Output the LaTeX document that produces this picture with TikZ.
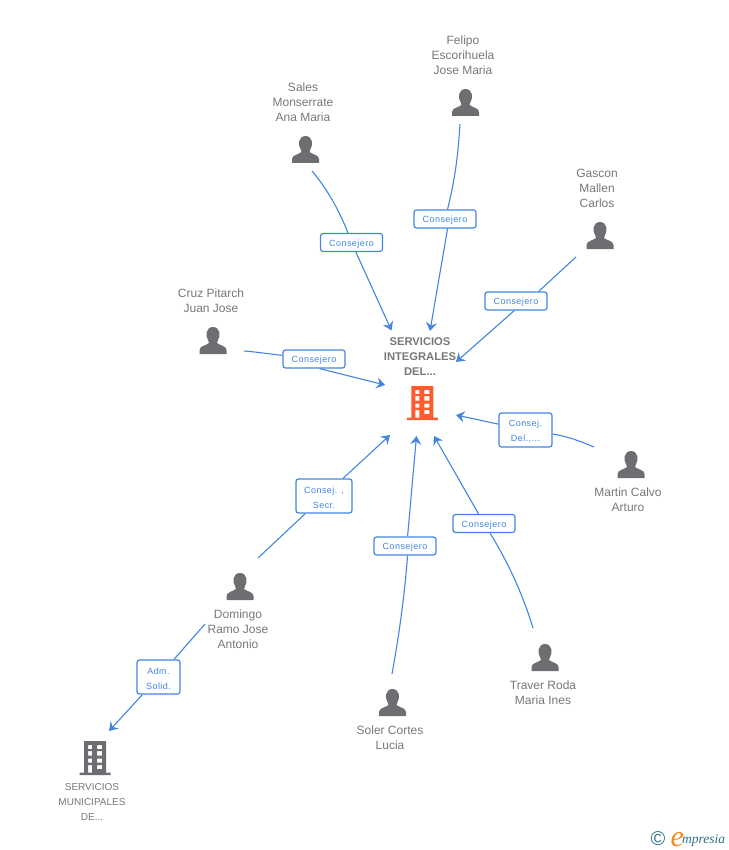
\documentclass[tikz,border=0pt]{standalone}
\usepackage{fontspec}
\setmainfont{Liberation Sans}
\newfontfamily\boxfont[LetterSpace=5]{Liberation Sans}
\newfontfamily\logofont{Liberation Serif}
\usetikzlibrary{arrows.meta}
\definecolor{LinkBlue}{HTML}{4285E0}
\definecolor{NameGrey}{HTML}{777777}
\definecolor{IconGrey}{HTML}{6E6E72}
\definecolor{HubOrange}{HTML}{FF5C2E}
\definecolor{LogoTeal}{HTML}{2F7088}
\definecolor{LogoOrange}{HTML}{F28C1E}
\newcommand{\relline}[1]{\raisebox{-1.5pt}[\height][\depth]{#1}}
\tikzset{
  nametext/.style={align=center,inner sep=0pt,text=NameGrey,font=\fontsize{12}{15}\selectfont},
  relbox/.style={draw=LinkBlue,fill=white,rounded corners=2.5pt,line width=1.2pt,align=center,
    inner sep=0pt,text=LinkBlue,font=\fontsize{9}{15}\boxfont},
  link/.style={draw=LinkBlue,line width=1.1pt},
  linkto/.style={link,-{Stealth[length=8.5pt,width=11pt,inset=3pt]}},
  pics/personicon/.style={code={
    \fill[IconGrey] (-13.5,0) -- (-13.5,-4) .. controls (-13.5,-8) and (-7,-8.5) .. (-4,-11)
      .. controls (-4,-12) and (-4.5,-13) .. (-5,-14) .. controls (-8,-18) and (-7,-27) .. (0,-27)
      .. controls (7,-27) and (8,-18) .. (5,-14) .. controls (4.5,-13) and (4,-12) .. (4,-11)
      .. controls (7,-8.5) and (13.5,-8) .. (13.5,-4) -- (13.5,0) -- cycle;
  }},
  pics/buildingicon/.style={code={
    \fill[#1,even odd rule] (-15.5,0) -- (-15.5,-2.5) -- (-11,-2.5) -- (-11,-34) -- (11,-34) -- (11,-2.5)
      -- (15.5,-2.5) -- (15.5,0) -- cycle
      (-7,-30) rectangle (-3,-26) (2,-30) rectangle (7,-26)
      (-7,-24) rectangle (-3,-19.5) (2,-24) rectangle (7,-19.5)
      (-7,-16.5) rectangle (-3,-12.5) (2,-16.5) rectangle (7,-12.5)
      (-7,-10) rectangle (-3,-2.5) (2,-10) rectangle (7,-6);
  }},
}
\begin{document}
\begin{tikzpicture}[x=1pt,y=-1pt]
  \useasboundingbox (0,0) rectangle (728,850);
  % people
  \pic (felipoIcon) at (465.5,116) {personicon};
  \pic (salesIcon) at (305.5,163) {personicon};
  \pic (gasconIcon) at (600,249) {personicon};
  \pic (cruzIcon) at (213,354) {personicon};
  \pic (martinIcon) at (631,478) {personicon};
  \pic (domingoIcon) at (240,600) {personicon};
  \pic (solerIcon) at (392.5,716) {personicon};
  \pic (traverIcon) at (545,671) {personicon};
  \node[nametext] (felipo) at (463,55) {Felipo\\Escorihuela\\Jose Maria};
  \node[nametext] (sales) at (303,102) {Sales\\Monserrate\\Ana Maria};
  \node[nametext] (gascon) at (597,188) {Gascon\\Mallen\\Carlos};
  \node[nametext] (cruz) at (211,300.5) {Cruz Pitarch\\Juan Jose};
  \node[nametext] (martin) at (628,499.5) {Martin Calvo\\Arturo};
  \node[nametext] (domingo) at (238,629) {Domingo\\Ramo Jose\\Antonio};
  \node[nametext] (soler) at (390,737.5) {Soler Cortes\\Lucia};
  \node[nametext] (traver) at (543,692.5) {Traver Roda\\Maria Ines};
  % companies
  \node[nametext,font=\fontsize{11.2}{15}\selectfont\bfseries] (hub) at (420,357) {SERVICIOS\\INTEGRALES\\DEL...};
  \pic (hubIcon) at (422.3,420) {buildingicon=HubOrange};
  \pic (munIcon) at (95,775) {buildingicon=IconGrey};
  \node[nametext,font=\fontsize{10}{15}\selectfont] (mun) at (92,802) {SERVICIOS\\MUNICIPALES\\DE...};
  % relation boxes
  \node[relbox,minimum width=62pt,minimum height=18pt] (salesBox) at (351.5,242.5) {\relline{Consejero}};
  \node[relbox,minimum width=62pt,minimum height=18pt] (felipoBox) at (445,219) {\relline{Consejero}};
  \node[relbox,minimum width=62pt,minimum height=18pt] (gasconBox) at (516,301) {\relline{Consejero}};
  \node[relbox,minimum width=62pt,minimum height=18pt] (cruzBox) at (314,359) {\relline{Consejero}};
  \node[relbox,minimum width=53pt,minimum height=34pt] (martinBox) at (525.5,430) {\relline{Consej.}\\\relline{Del.,...}};
  \node[relbox,minimum width=56pt,minimum height=34pt] (domingoBox) at (324,496) {\relline{Consej. ,}\\\relline{Secr.}};
  \node[relbox,minimum width=62pt,minimum height=18pt] (solerBox) at (405,546) {\relline{Consejero}};
  \node[relbox,minimum width=62pt,minimum height=18pt] (traverBox) at (484,523.5) {\relline{Consejero}};
  \node[relbox,minimum width=43pt,minimum height=34pt] (admBox) at (158.5,677) {\relline{Adm.}\\\relline{Solid.}};
  % free ends
  \coordinate (felipoStart) at (460,124);
  \coordinate (salesStart) at (312,171);
  \coordinate (gasconStart) at (576,257);
  \coordinate (cruzStart) at (244,351);
  \coordinate (martinStart) at (594,447);
  \coordinate (domingoStart) at (258,558);
  \coordinate (solerStart) at (392,674);
  \coordinate (traverStart) at (533,628);
  \coordinate (admStart) at (205,624);
  \coordinate (felipoEnd) at (430,331);
  \coordinate (salesEnd) at (391.5,330.5);
  \coordinate (gasconEnd) at (456,362);
  \coordinate (cruzEnd) at (385,385);
  \coordinate (martinEnd) at (456,415);
  \coordinate (domingoEnd) at (390,435);
  \coordinate (solerEnd) at (416.5,436);
  \coordinate (traverEnd) at (434,436);
  \coordinate (admEnd) at (109,731);
  % connectors
  \draw[link] (felipoStart) .. controls (458,155) and (455,180) .. (felipoBox);
  \draw[linkto] (felipoBox.-75) -- (felipoEnd);
  \draw[link] (salesStart) .. controls (328,190) and (340,212) .. (salesBox);
  \draw[linkto] (salesBox) -- (salesEnd);
  \draw[link] (gasconStart) -- (gasconBox.23);
  \draw[linkto] (gasconBox.-100) -- (gasconEnd);
  \draw[link] (cruzStart) .. controls (257,352) and (270,354) .. (cruzBox);
  \draw[linkto] (cruzBox.-60) -- (cruzEnd);
  \draw[link] (martinStart) .. controls (580,441) and (566,436) .. (martinBox);
  \draw[linkto] (martinBox) -- (martinEnd);
  \draw[link] (domingoStart) -- (domingoBox);
  \draw[linkto] (domingoBox) -- (domingoEnd);
  \draw[link] (solerStart) .. controls (400,630) and (405,590) .. (solerBox.-75);
  \draw[linkto] (solerBox.75) -- (solerEnd);
  \draw[link] (traverStart) .. controls (523,595) and (508,562) .. (traverBox);
  \draw[linkto] (traverBox) -- (traverEnd);
  \draw[link] (admStart) -- (admBox);
  \draw[linkto] (admBox) -- (admEnd);
  % logo
  \node[inner sep=0pt,text=LogoTeal,font=\fontsize{20}{20}\selectfont] (logoMark) at (658,839) {©};
  \node[inner sep=0pt,anchor=base west,text=LogoOrange,font=\fontsize{30}{30}\logofont\itshape] (logoE) at (670.5,846) {e};
  \node[inner sep=0pt,anchor=base west,text=LogoTeal,font=\fontsize{13.5}{14}\logofont\itshape] (logoText) at (682,843.5) {mpresia};
\end{tikzpicture}
\end{document}
